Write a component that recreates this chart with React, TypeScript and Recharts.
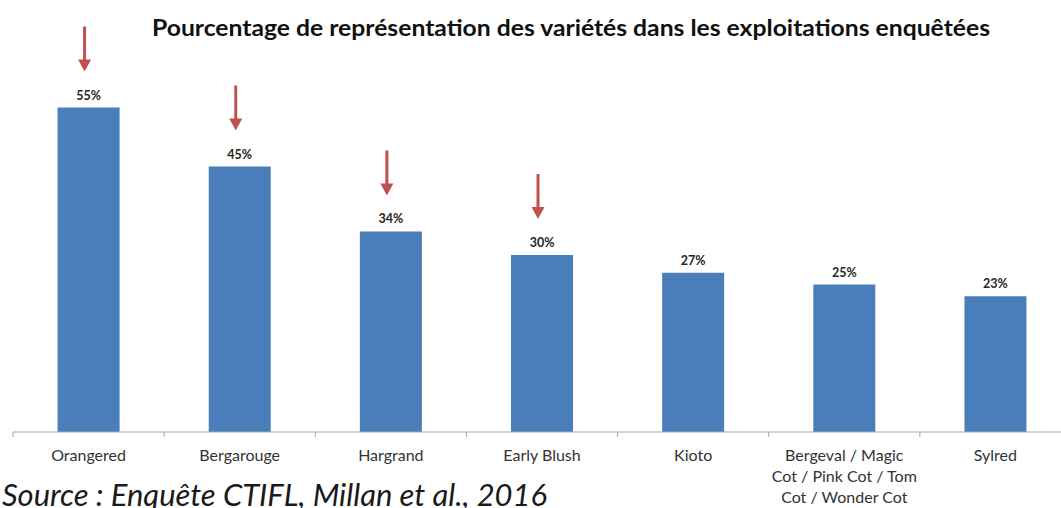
import React from 'react';
import { BarChart, Bar, XAxis, YAxis, LabelList } from 'recharts';

const varieties = [
  'Orangered',
  'Bergarouge',
  'Hargrand',
  'Early Blush',
  'Kioto',
  'Bergeval / Magic\nCot / Pink Cot / Tom\nCot / Wonder Cot',
  'Sylred',
];
const shares = [55, 45, 34, 30, 27, 25, 23];
const highlighted = [true, true, true, true, false, false, false];

const chartTitle = 'Pourcentage de représentation des variétés dans les exploitations enquêtées';
const sourceNote = 'Source : Enquête CTIFL, Millan et al., 2016';

const data = varieties.map((name, i) => ({ name, share: shares[i] }));

const FONT = 'Lato, "Open Sans", sans-serif';
const BLUE = '#4a7ebb';
const RED = '#c0504d';

const CategoryTick = (props: any) => {
  const { x, y, payload } = props;
  const half = payload && payload.offset ? payload.offset : 75.6;
  const lines = String(payload.value).split('\n');
  return (
    <g>
      <line x1={x - half} x2={x - half} y1={y} y2={y + 5} stroke="#a6a6a6" />
      <text x={x} y={y + 29} textAnchor="middle" fontFamily={FONT} fontSize={16} fill="#333">
        {lines.map((line, i) => (
          <tspan key={i} x={x} dy={i === 0 ? 0 : 21}>
            {line}
          </tspan>
        ))}
      </text>
    </g>
  );
};

const TopLabel = (props: any) => {
  const { x, y, width, value, index } = props;
  const cx = x + width / 2;
  const ax = cx - 4;
  const tip = y - 36;
  const top = y - 81;
  return (
    <g>
      <text x={cx} y={y - 8} textAnchor="middle" fontFamily={FONT} fontWeight="bold" fontSize={12.5} fill="#262626">
        {value}%
      </text>
      {highlighted[index] && (
        <g>
          <line x1={ax} x2={ax} y1={top} y2={tip - 8} stroke={RED} strokeWidth={3} />
          <polygon points={`${ax - 6.5},${tip - 12} ${ax + 6.5},${tip - 12} ${ax},${tip}`} fill={RED} />
        </g>
      )}
    </g>
  );
};

export default function App() {
  return (
    <div
      style={{
        position: 'absolute',
        left: 0,
        top: 0,
        width: 1061,
        height: 508,
        overflow: 'hidden',
        background: '#fff',
      }}
    >
      <BarChart
        width={1090}
        height={508}
        data={data}
        margin={{ top: 78, right: 19, bottom: 0, left: 13 }}
        barCategoryGap="29.5%"
      >
        <XAxis
          dataKey="name"
          interval={0}
          height={76}
          tickSize={0}
          tickMargin={0}
          tickLine={false}
          axisLine={{ stroke: '#a6a6a6' }}
          tick={<CategoryTick />}
        />
        <YAxis hide domain={[0, 60]} />
        <Bar dataKey="share" fill={BLUE} isAnimationActive={false}>
          <LabelList dataKey="share" content={<TopLabel />} />
        </Bar>
      </BarChart>
      <svg width={1061} height={508} style={{ position: 'absolute', left: 0, top: 0, pointerEvents: 'none' }}>
        <text
          x={571}
          y={36}
          textAnchor="middle"
          fontFamily={FONT}
          fontWeight="bold"
          fontSize={23}
          fill="#111"
          textLength={838}
          lengthAdjust="spacingAndGlyphs"
        >
          {chartTitle}
        </text>
        <text
          x={2}
          y={506}
          fontFamily={FONT}
          fontStyle="italic"
          fontSize={31}
          fill="#1a1a1a"
          textLength={545}
          lengthAdjust="spacingAndGlyphs"
        >
          {sourceNote}
        </text>
      </svg>
    </div>
  );
}
